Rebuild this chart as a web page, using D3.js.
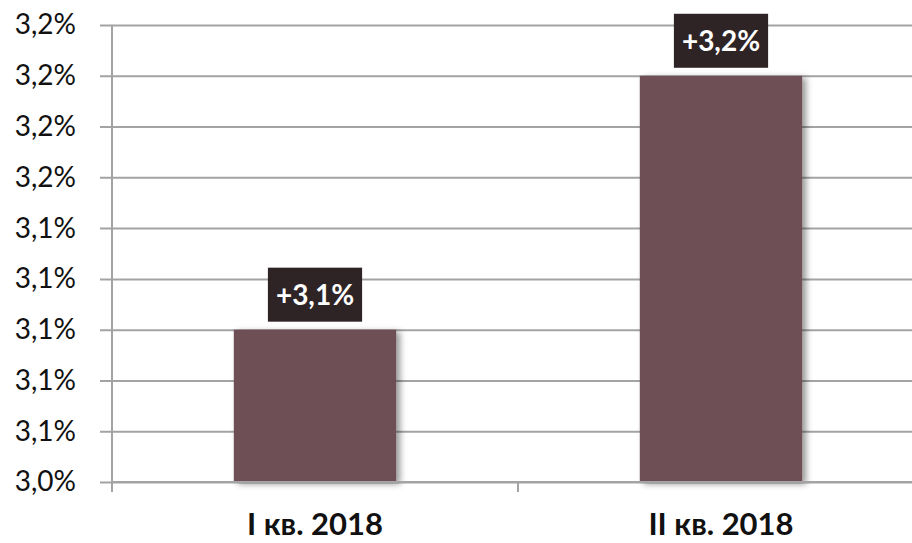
<!DOCTYPE html>
<html>
<head>
<meta charset="utf-8">
<script src="https://d3js.org/d3.v7.min.js"></script>
<style>
    body { margin: 0; background: #fff; }
    svg { display: block; font-family: Lato, "Open Sans", sans-serif; }
</style>
</head>
<body>
<svg width="912" height="543"></svg>
<script>
    // data
    var categories = ["I кв. 2018", "II кв. 2018"];
    var values = [3.10, 3.20];
    var barLabels = ["+3,1%", "+3,2%"];
    var yTicks = [3.04, 3.06, 3.08, 3.10, 3.12, 3.14, 3.16, 3.18, 3.20, 3.22];
    var yTickLabels = ["3,0%", "3,1%", "3,1%", "3,1%", "3,1%", "3,1%", "3,2%", "3,2%", "3,2%", "3,2%"];

    var svg = d3.select("svg");
    var plotLeft = 112, plotRight = 924, plotTop = 25, plotBottom = 482;

    var y = d3.scaleLinear()
        .domain([yTicks[0], yTicks[yTicks.length - 1]])
        .range([plotBottom, plotTop]);

    var x = d3.scaleBand()
        .domain(categories)
        .range([plotLeft, plotRight])
        .paddingInner(0.6)
        .paddingOuter(0.3);

    // shadow on the bars
    var defs = svg.append("defs");
    var f = defs.append("filter").attr("id", "shadow")
        .attr("x", "-10%").attr("y", "-10%").attr("width", "130%").attr("height", "130%");
    f.append("feDropShadow")
        .attr("dx", 4).attr("dy", 2).attr("stdDeviation", 3)
        .attr("flood-color", "#000").attr("flood-opacity", 0.4);

    // gridlines + y labels
    svg.append("g")
        .attr("transform", "translate(" + plotLeft + ",0)")
        .call(d3.axisLeft(y)
            .tickValues(yTicks)
            .tickSize(-(912 - plotLeft))
            .tickPadding(36)
            .tickFormat(function(d, i) { return yTickLabels[i]; }))
        .call(function(g) {
            g.select(".domain").remove();
            g.selectAll(".tick line")
                .attr("x1", -12)
                .attr("stroke", "#a3a3a3")
                .attr("stroke-width", 2);
            g.selectAll(".tick text")
                .attr("fill", "#111")
                .attr("font-size", 28)
                .attr("font-family", "Lato, sans-serif");
        });

    // y axis line
    svg.append("line")
        .attr("x1", plotLeft).attr("x2", plotLeft)
        .attr("y1", plotTop).attr("y2", plotBottom + 10)
        .attr("stroke", "#a3a3a3").attr("stroke-width", 2);

    // category boundary ticks
    svg.selectAll(".xtick")
        .data([plotLeft, plotLeft + x.step(), plotLeft + 2 * x.step()])
        .enter().append("line")
        .attr("x1", function(d) { return d; })
        .attr("x2", function(d) { return d; })
        .attr("y1", plotBottom).attr("y2", plotBottom + 10)
        .attr("stroke", "#a3a3a3").attr("stroke-width", 2);

    // bars
    svg.selectAll(".bar")
        .data(values)
        .enter().append("rect")
        .attr("class", "bar")
        .attr("x", function(d, i) { return x(categories[i]); })
        .attr("width", x.bandwidth())
        .attr("y", function(d) { return y(d); })
        .attr("height", function(d) { return plotBottom - y(d); })
        .attr("fill", "#6d5054")
        .attr("filter", "url(#shadow)");

    // bottom axis line drawn over bars
    svg.append("line")
        .attr("x1", plotLeft).attr("x2", 912)
        .attr("y1", plotBottom).attr("y2", plotBottom)
        .attr("stroke", "#a3a3a3").attr("stroke-width", 2);

    // value labels in dark boxes
    var lab = svg.selectAll(".lab")
        .data(values)
        .enter().append("g")
        .attr("class", "lab")
        .attr("transform", function(d, i) {
            return "translate(" + (x(categories[i]) + x.bandwidth() / 2) + "," + (y(d) - 8) + ")";
        });

    lab.append("text")
        .attr("text-anchor", "middle")
        .attr("y", -17)
        .attr("fill", "#fff")
        .attr("font-size", 28)
        .attr("font-weight", "bold")
        .text(function(d, i) { return barLabels[i]; });

    lab.each(function() {
        var g = d3.select(this);
        var bb = g.select("text").node().getBBox();
        g.insert("rect", "text")
            .attr("x", bb.x - 8)
            .attr("width", bb.width + 16)
            .attr("y", -54)
            .attr("height", 54)
            .attr("fill", "#2e2325");
    });

    // category labels
    svg.selectAll(".cat")
        .data(categories)
        .enter().append("text")
        .attr("x", function(d) { return x(d) + x.bandwidth() / 2; })
        .attr("y", 535)
        .attr("text-anchor", "middle")
        .attr("font-size", 31)
        .attr("font-weight", "bold")
        .attr("fill", "#111")
        .text(function(d) { return d; });
</script>
</body>
</html>
